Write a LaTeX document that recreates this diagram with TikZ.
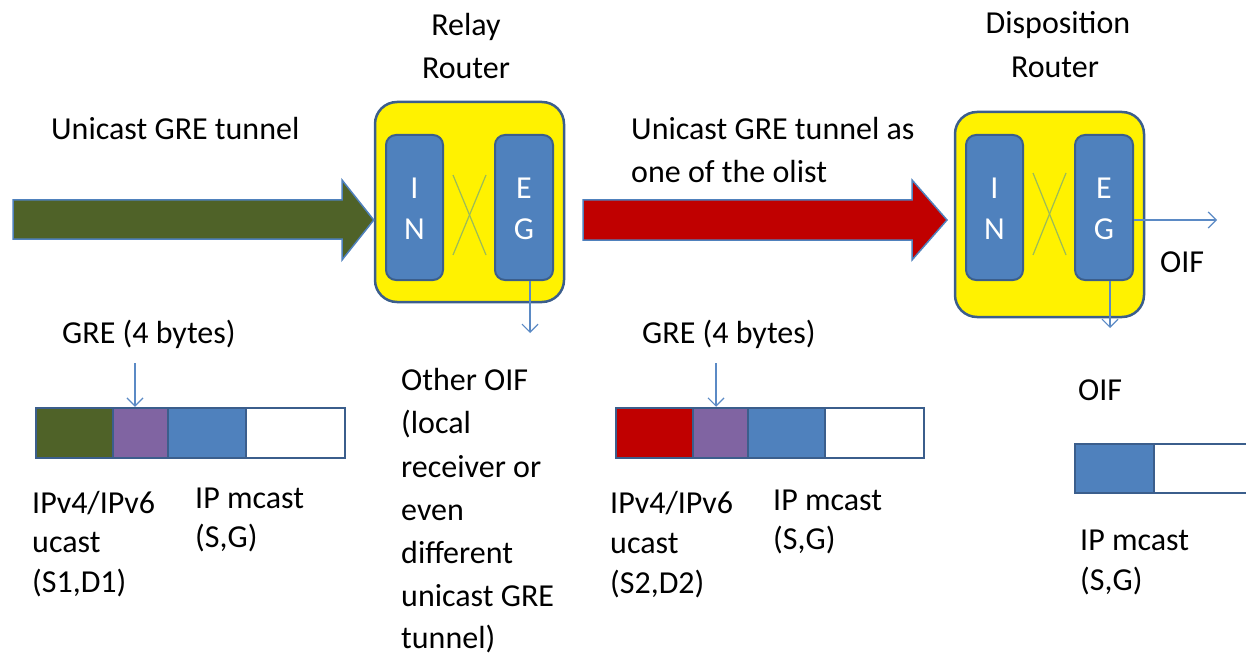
\documentclass[tikz,border=0pt]{standalone}
\usepackage{fontspec}
\setmainfont{Carlito}
\usetikzlibrary{arrows.meta}
\definecolor{rbord}{HTML}{3B5E8C}
\definecolor{ibox}{HTML}{4F81BD}
\definecolor{crossc}{HTML}{9BBB59}
\definecolor{olivegreen}{HTML}{4F6228}
\definecolor{darkred}{HTML}{C00000}
\definecolor{purp}{HTML}{8064A2}
\definecolor{thinarrow}{HTML}{5B8AC5}
\begin{document}
\begin{tikzpicture}[x=1pt,y=-1pt,
  txt/.style={font=\fontsize{32}{40}\selectfont, inner sep=0pt, anchor=base west},
  ctxt/.style={txt, anchor=base},
  wtxt/.style={font=\fontsize{32}{40}\selectfont, text=white, inner sep=0pt},
  router/.style={draw=rbord, line width=2.5pt, fill=yellow, rounded corners=22pt, inner sep=0pt},
  port/.style={draw=rbord, line width=2pt, fill=ibox, rounded corners=10pt, inner sep=0pt, minimum height=145pt},
  xline/.style={draw=crossc, line width=1.2pt},
  thinarr/.style={draw=thinarrow, line width=1.2pt, -{Straight Barb[length=8pt,width=16pt]}},
  fatarr/.style={draw=ibox, line width=1.5pt},
  seg/.style={draw=rbord, line width=2.5pt, inner sep=0pt, minimum height=50pt}
]
\useasboundingbox (0,0) rectangle (1246,660);

% ---------- Relay router ----------
\node[router, minimum width=189pt, minimum height=200pt] (relay) at (469.5,202) {};
\node[port, minimum width=57pt] (rIN) at (414.5,207.5) {};
\node[port, minimum width=58pt] (rEG) at (524,207.5) {};
\draw[xline] (453,175) -- (486,255);
\draw[xline] (486,175) -- (453,255);
\node[wtxt] (rI) at (414.5,188) {I};
\node[wtxt] (rN) at (414.5,229) {N};
\node[wtxt] (rE) at (524,188) {E};
\node[wtxt] (rG) at (524,229) {G};
\node[ctxt] (relayl1) at (466,36) {Relay};
\node[ctxt] (relayl2) at (466,79) {Router};

% ---------- Disposition router ----------
\node[router, minimum width=189pt, minimum height=205pt] (disp) at (1049.5,214.5) {};
\node[port, minimum width=57pt] (dIN) at (994.5,207.5) {};
\node[port, minimum width=58pt] (dEG) at (1104,207.5) {};
\draw[xline] (1033,173) -- (1066,255);
\draw[xline] (1066,173) -- (1033,255);
\node[wtxt] (dI) at (994.5,188) {I};
\node[wtxt] (dN) at (994.5,229) {N};
\node[wtxt] (dE) at (1104,188) {E};
\node[wtxt] (dG) at (1104,229) {G};
\node[ctxt] (displ1) at (1058,34) {Disposition};
\node[ctxt] (displ2) at (1055,78) {Router};

% ---------- fat tunnel arrows ----------
\draw[fatarr, fill=olivegreen] (13,200) -- (342,200) -- (342,180) -- (relay.west |- 0,220)
   -- (342,260) -- (342,239) -- (13,239) -- cycle;
\draw[fatarr, fill=darkred] (583,200) -- (912,200) -- (912,180) -- (947,220)
   -- (912,260) -- (912,240) -- (583,240) -- cycle;
\node[txt] (t1) at (51,140) {Unicast GRE tunnel};
\node[txt] (t2a) at (631,140) {Unicast GRE tunnel as};
\node[txt] (t2b) at (631,183) {one of the olist};

% ---------- thin outgoing arrows ----------
\coordinate (rdown) at (530,333);
\draw[thinarr] (rEG.south -| rdown) -- (rdown);
\coordinate (dright) at (1217,220);
\draw[thinarr] (dEG.east |- dright) -- (dright);
\coordinate (ddown) at (1110,328);
\draw[thinarr] (dEG.south -| ddown) -- (ddown);
\node[txt] (oifr) at (1160,272) {OIF};
\node[txt] (oifd) at (1078,400) {OIF};

% ---------- Other OIF text ----------
\node[txt] (o1) at (401,390) {Other OIF};
\node[txt] (o2) at (401,433) {(local};
\node[txt] (o3) at (401,477) {receiver or};
\node[txt] (o4) at (401,520) {even};
\node[txt] (o5) at (401,563) {different};
\node[txt] (o6) at (401,606) {unicast GRE};
\node[txt] (o7) at (401,648) {tunnel)};

% ---------- packet 1 ----------
\node[seg, fill=olivegreen, minimum width=77pt] (p1a) at (74.5,433) {};
\node[seg, fill=purp, minimum width=55pt] (p1b) at (140.5,433) {};
\node[seg, fill=ibox, minimum width=78pt] (p1c) at (207,433) {};
\node[seg, fill=white, minimum width=99pt] (p1d) at (295.5,433) {};
\node[txt] (g1) at (62,343) {GRE (4 bytes)};
\coordinate (g1a) at (135,363);
\draw[thinarr] (g1a) -- (g1a |- p1b.north);
\node[txt] (a1) at (32,513) {IPv4/IPv6};
\node[txt] (a2) at (32,552) {ucast};
\node[txt] (a3) at (32,592) {(S1,D1)};
\node[txt] (b1) at (195,508) {IP mcast};
\node[txt] (b2) at (195,547) {(S,G)};

% ---------- packet 2 ----------
\node[seg, fill=darkred, minimum width=77pt] (p2a) at (654.5,433) {};
\node[seg, fill=purp, minimum width=55pt] (p2b) at (720.5,433) {};
\node[seg, fill=ibox, minimum width=77pt] (p2c) at (786.5,433) {};
\node[seg, fill=white, minimum width=99pt] (p2d) at (874.5,433) {};
\node[txt] (g2) at (642,343) {GRE (4 bytes)};
\coordinate (g2a) at (716,363);
\draw[thinarr] (g2a) -- (g2a |- p2b.north);
\node[txt] (c1) at (610,513) {IPv4/IPv6};
\node[txt] (c2) at (610,553) {ucast};
\node[txt] (c3) at (610,593) {(S2,D2)};
\node[txt] (d1) at (773,510) {IP mcast};
\node[txt] (d2) at (773,549) {(S,G)};

% ---------- packet 3 ----------
\node[seg, fill=ibox, minimum width=79pt, minimum height=49pt] (p3a) at (1114.5,468.5) {};
\node[seg, fill=white, minimum width=110pt, minimum height=49pt] (p3b) at (1209,468.5) {};
\node[txt] (e1) at (1080,550) {IP mcast};
\node[txt] (e2) at (1080,590) {(S,G)};
\end{tikzpicture}
\end{document}
